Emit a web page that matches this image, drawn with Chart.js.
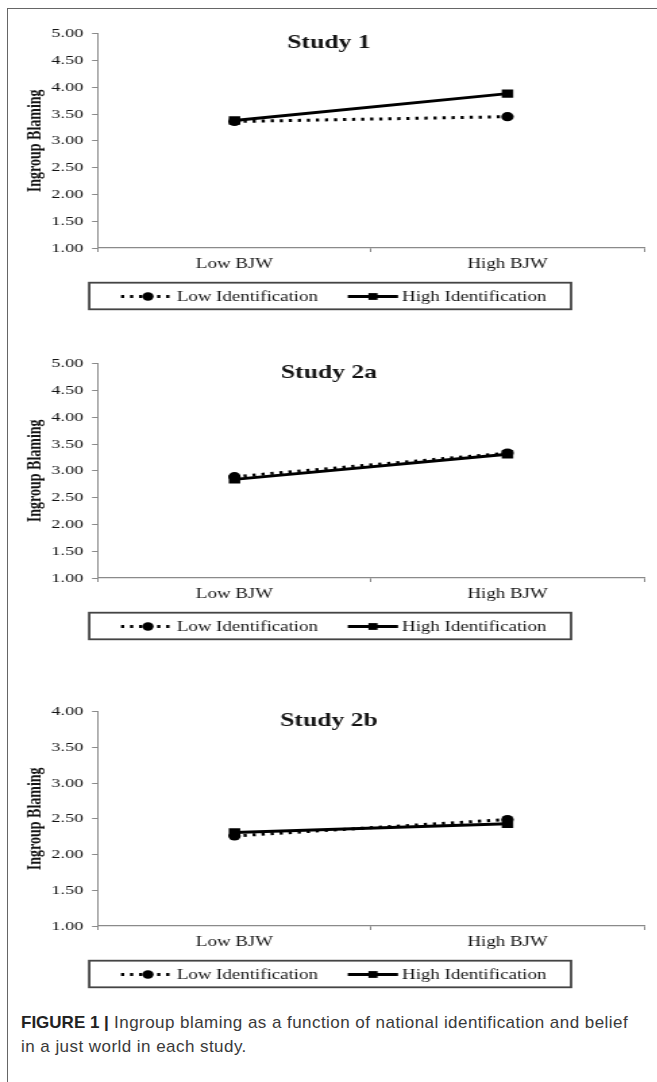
<!DOCTYPE html>
<html>
<head>
<meta charset="utf-8">
<script src="https://cdn.jsdelivr.net/npm/chart.js@4.4.1/dist/chart.umd.min.js"></script>
<style>
body { margin: 0; background: #fff; width: 657px; height: 1082px; overflow: hidden; position: relative; }
#frame { position: absolute; left: 7px; top: 8px; width: 680px; height: 1100px; border-left: 1px solid #666; border-top: 1px solid #666; }
.panel { position: absolute; left: 0; width: 487px; height: 297px; transform: scaleX(1.35); transform-origin: 0 0; }
#caption { position: absolute; left: 21px; top: 1011px; font: 17px/24px "Liberation Sans", Arial, sans-serif; letter-spacing: 0.45px; color: #3a3a3a; white-space: nowrap; }
#caption b { color: #222; letter-spacing: 0; }
</style>
</head>
<body>
<div id="frame"></div>
<div class="panel" style="top:18.5px"><canvas id="study1"></canvas></div>
<div class="panel" style="top:349.3px"><canvas id="study2a"></canvas></div>
<div class="panel" style="top:697px"><canvas id="study2b"></canvas></div>
<div id="caption"><b>FIGURE 1 |</b> Ingroup blaming as a function of national identification and belief<br>in a just world in each study.</div>

<script>
// valores
const categorias = ["Low BJW", "High BJW"]
const titulos = ["Study 1", "Study 2a", "Study 2b"]
const series = ["Low Identification", "High Identification"]

const lowId1 = [3.36, 3.45]
const highId1 = [3.38, 3.88]
const lowId2a = [2.89, 3.33]
const highId2a = [2.84, 3.31]
const lowId2b = [2.26, 2.49]
const highId2b = [2.31, 2.43]

const yMaximos = [5, 5, 4]

const serif = "'Liberation Serif', 'Times New Roman', serif"
const corTexto = "#141414"
const corEixo = "#8a8a8a"

// titulo dentro da area do grafico e legenda com caixa
const extras = {
    id: "extras",
    afterDraw(chart, args, opts) {
        const ctx = chart.ctx
        const a = chart.chartArea
        ctx.save()
        ctx.fillStyle = corTexto
        ctx.font = "bold 19px " + serif
        ctx.textAlign = "center"
        ctx.textBaseline = "alphabetic"
        ctx.fillText(opts.titulo, a.left + (a.right - a.left) * 0.423, a.top + 14.2)

        // caixa da legenda
        const bx = a.left - 6.5, by = a.bottom + 34.7, bw = 356.9, bh = 26.6
        ctx.lineWidth = 1.8
        ctx.strokeStyle = "#444"
        ctx.strokeRect(bx, by, bw, bh)
        const cy = by + bh / 2 + 0.5

        const posicoes = [[17, 55.5, 37, 58.3], [185, 222.2, 203.7, 225.2]]
        chart.data.datasets.forEach((ds, i) => {
            const [x0, x1, xm, xt] = posicoes[i]
            ctx.strokeStyle = "#000"
            ctx.lineWidth = 3
            ctx.setLineDash(ds.borderDash || [])
            ctx.beginPath()
            ctx.moveTo(a.left + x0, cy)
            ctx.lineTo(a.left + x1, cy)
            ctx.stroke()
            ctx.setLineDash([])
            ctx.fillStyle = "#000"
            if (ds.pointStyle == "circle") {
                ctx.beginPath()
                ctx.arc(a.left + xm, cy, 4.2, 0, Math.PI * 2)
                ctx.fill()
            } else {
                ctx.fillRect(a.left + xm - 3.4, cy - 3.4, 6.8, 6.8)
            }
            ctx.fillStyle = corTexto
            ctx.font = "14px " + serif
            ctx.textAlign = "left"
            ctx.textBaseline = "middle"
            ctx.fillText(ds.label, a.left + xt, cy + 1)
        })
        ctx.restore()
    }
}

function fazerGrafico(id, titulo, low, high, yMax) {
    new Chart(document.getElementById(id), {
        type: "line",
        data: {
            labels: categorias,
            datasets: [{
                label: series[0],
                data: low,
                borderColor: "#000",
                backgroundColor: "#000",
                borderWidth: 3,
                borderDash: [2.4, 4.3],
                pointStyle: "circle",
                pointRadius: 4.6,
                pointBorderWidth: 0,
                tension: 0
            }, {
                label: series[1],
                data: high,
                borderColor: "#000",
                backgroundColor: "#000",
                borderWidth: 3,
                pointStyle: "rect",
                pointRadius: 6,
                pointBorderWidth: 0,
                tension: 0
            }]
        },
        options: {
            responsive: true,
            maintainAspectRatio: false,
            animation: false,
            layout: { padding: { top: 14, left: 0, right: 10, bottom: 0 } },
            plugins: {
                legend: { display: false },
                tooltip: { enabled: false },
                extras: { titulo: titulo }
            },
            scales: {
                x: {
                    offset: true,
                    grid: { offset: true, drawOnChartArea: false, tickLength: 4, color: corEixo },
                    border: { color: corEixo, width: 1.3 },
                    ticks: { font: { family: serif, size: 14 }, color: corTexto, padding: 4 },
                    afterFit: (s) => { s.height = 68 }
                },
                y: {
                    min: 1,
                    max: yMax,
                    ticks: {
                        stepSize: 0.5,
                        callback: (v) => v.toFixed(2),
                        font: { family: serif, size: 13.5 },
                        color: corTexto,
                        padding: 6.5
                    },
                    grid: { drawOnChartArea: false, tickLength: 4.4, color: corEixo },
                    border: { color: corEixo, width: 1 },
                    title: {
                        display: true,
                        text: "Ingroup Blaming",
                        font: { family: serif, size: 14, weight: "bold" },
                        color: corTexto,
                        padding: { top: 17.5, bottom: 0 }
                    },
                    afterFit: (s) => { s.width = 72.6 }
                }
            }
        },
        plugins: [extras]
    })
}

fazerGrafico("study1", titulos[0], lowId1, highId1, yMaximos[0])
fazerGrafico("study2a", titulos[1], lowId2a, highId2a, yMaximos[1])
fazerGrafico("study2b", titulos[2], lowId2b, highId2b, yMaximos[2])
</script>
</body>
</html>
